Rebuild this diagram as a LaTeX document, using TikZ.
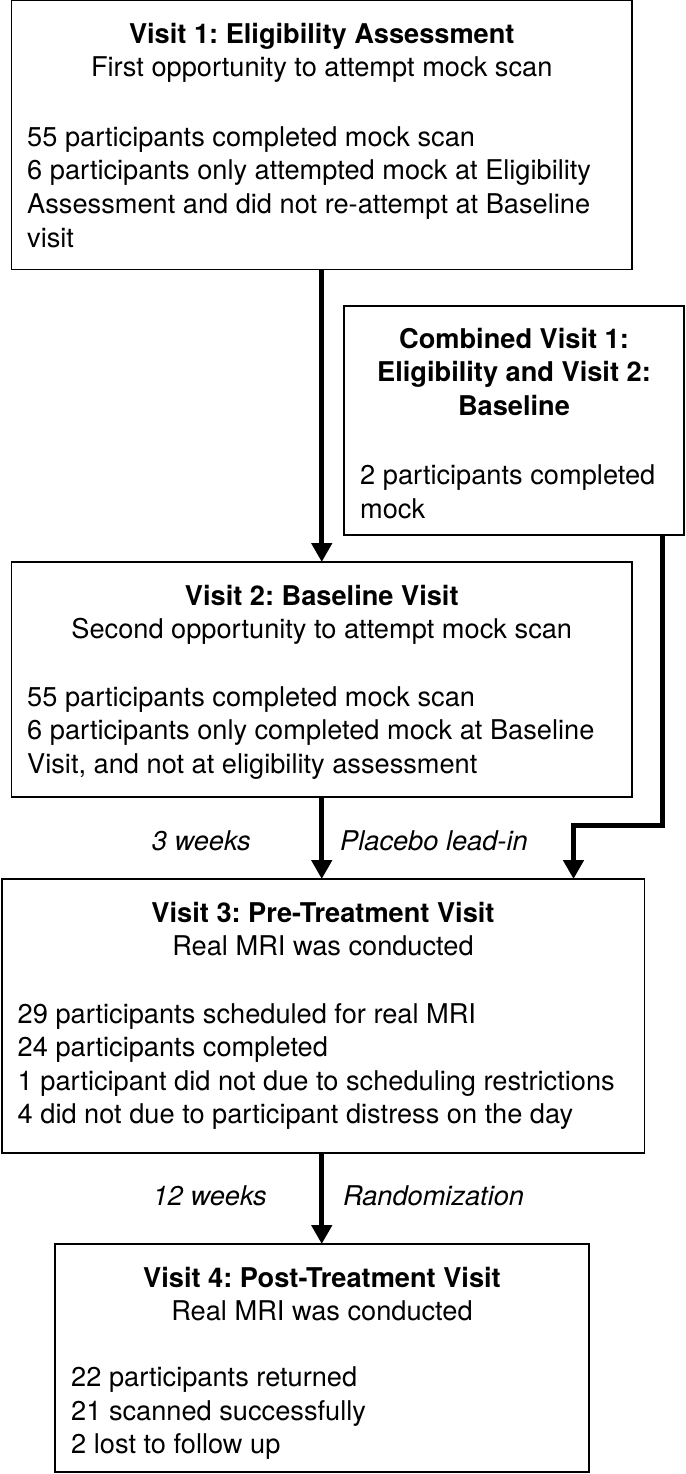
\documentclass[tikz,border=0pt]{standalone}
\usepackage{fontspec}
\setmainfont{TeX Gyre Heros}
\frenchspacing
\usetikzlibrary{arrows.meta,calc}
\tikzset{
  box/.style={draw=black, line width=1.5pt, inner sep=0pt, outer sep=0pt, fill=none},
  ttl/.style={inner sep=0pt, anchor=base, font=\fontsize{27.2}{33}\selectfont\bfseries},
  sub/.style={inner sep=0pt, anchor=base, font=\fontsize{27.2}{33}\selectfont},
  bodyline/.style={inner sep=0pt, anchor=base west, font=\fontsize{27.2}{33}\selectfont},
  lbl/.style={inner sep=0pt, font=\fontsize{27.2}{33}\selectfont\itshape},
  conn/.style={line width=5pt, line join=miter, -{Triangle[length=19pt,width=20pt]}}
}
\begin{document}
\begin{tikzpicture}[x=1pt,y=-1pt]
\useasboundingbox (0,0) rectangle (685,1474);
% boxes
\node[box, minimum width=620.5pt, minimum height=268.5pt] (b1) at (321.75,135) {};
\node[box, minimum width=340pt, minimum height=229pt] (bc) at (514,420.5) {};
\node[box, minimum width=620.5pt, minimum height=235pt] (b2) at (321.75,679.5) {};
\node[box, minimum width=642.5pt, minimum height=274pt] (b3) at (323,1016) {};
\node[box, minimum width=534pt, minimum height=228pt] (b4) at (322,1358) {};
% box 1 text
\node[ttl] (t1) at (321.75,44) {Visit 1: Eligibility Assessment};
\node[sub] (s1) at (321.75,77) {First opportunity to attempt mock scan};
\node[bodyline] (b1a) at (27,146.5) {55 participants completed mock scan};
\node[bodyline] (b1b) at (27,180) {6 participants only attempted mock at Eligibility};
\node[bodyline] (b1c) at (27,213.5) {Assessment and did not re-attempt at Baseline};
\node[bodyline] (b1d) at (27,247) {visit};
% combined box text
\node[ttl] (tc1) at (514,348) {Combined Visit 1:};
\node[ttl] (tc2) at (514,381.5) {Eligibility and Visit 2:};
\node[ttl] (tc3) at (514,415) {Baseline};
\node[bodyline] (bca) at (360,484) {2 participants completed};
\node[bodyline] (bcb) at (360,518) {mock};
% box 2 text
\node[ttl] (t2) at (321.75,605) {Visit 2: Baseline Visit};
\node[sub] (s2) at (321.75,638.5) {Second opportunity to attempt mock scan};
\node[bodyline] (b2a) at (27,706) {55 participants completed mock scan};
\node[bodyline] (b2b) at (27,739.5) {6 participants only completed mock at Baseline};
\node[bodyline] (b2c) at (27,773) {Visit, and not at eligibility assessment};
% box 3 text
\node[ttl] (t3) at (323,922) {Visit 3: Pre-Treatment Visit};
\node[sub] (s3) at (323,955.5) {Real MRI was conducted};
\node[bodyline] (b3a) at (17.5,1023) {29 participants scheduled for real MRI};
\node[bodyline] (b3b) at (17.5,1056.5) {24 participants completed};
\node[bodyline] (b3c) at (17.5,1090) {1 participant did not due to scheduling restrictions};
\node[bodyline] (b3d) at (17.5,1123.5) {4 did not due to participant distress on the day};
% box 4 text
\node[ttl] (t4) at (322,1287) {Visit 4: Post-Treatment Visit};
\node[sub] (s4) at (322,1320.5) {Real MRI was conducted};
\node[bodyline] (b4a) at (71,1386.5) {22 participants returned};
\node[bodyline] (b4b) at (71,1420) {21 scanned successfully};
\node[bodyline] (b4c) at (71,1453.5) {2 lost to follow up};
% connector labels
\node[lbl, anchor=base east] (l1) at (251,850) {3 weeks};
\node[lbl, anchor=base west] (l2) at (340,850) {Placebo lead-in};
\node[lbl, anchor=base east] (l3) at (267,1205) {12 weeks};
\node[lbl, anchor=base west] (l4) at (343,1205) {Randomization};
% connectors
\coordinate (e1) at (662,825.5);
\coordinate (e2) at (573.5,825.5);
\draw[conn] (b1.south) -- (b2.north -| b1.south);
\draw[conn] (bc.south -| e1) -- (e1) -- (e2) -- (e2 |- b3.north);
\draw[conn] (b2.south) -- (b2.south |- b3.north);
\draw[conn] (b3.south -| b2.south) -- (b4.north -| b2.south);
\end{tikzpicture}
\end{document}
